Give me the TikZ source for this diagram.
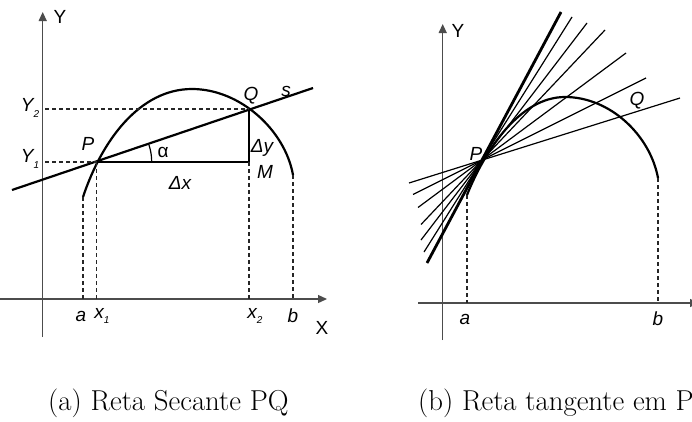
\documentclass[tikz,border=0pt]{standalone}
\usepackage{fontspec}
\newfontfamily\lab{Liberation Sans}
\usetikzlibrary{arrows.meta,calc}
\newcommand\lsub[1]{\raisebox{-0.3em}{\fontsize{10}{10}\selectfont #1}}
\begin{document}
\begin{tikzpicture}[x=1pt,y=-1pt,
  axis/.style={draw=black!70, line width=1.3pt, -{Triangle[length=9pt,width=8pt]}},
  dashline/.style={draw=black!85, dash pattern=on 4pt off 3pt, line width=1.1pt},
  curve/.style={line width=2.2pt},
  thinl/.style={line width=1.2pt},
  lbl/.style={font=\lab\fontsize{19}{21}\selectfont\itshape, inner sep=0pt},
  ulbl/.style={font=\lab\fontsize{19}{21}\selectfont, inner sep=0pt},
  captext/.style={font=\fontsize{28.8}{32}\selectfont, inner sep=0pt, anchor=base west}]
\useasboundingbox (0,0) rectangle (692,421);
\clip (0,0) rectangle (692,421);
\fill[white] (0,0) rectangle (692,421);

% ===== Left panel =====
\coordinate (yb) at (42.7,337);
\coordinate (yt) at (42.7,12);
\coordinate (xl) at (0,299);
\coordinate (xr) at (327,299);
\draw[axis] (yb) -- (yt);
\draw[axis] (xl) -- (xr);
\node[ulbl] (Ylab) at (60,17) {Y};
\node[ulbl] (Xlab) at (322,328) {X};

\coordinate (A) at (83,197);
\coordinate (P) at (96.7,162);
\coordinate (T) at (192,89);
\coordinate (Q) at (249,109);
\coordinate (M) at (249,162);
\coordinate (B) at (293,175);
\coordinate (s1) at (12,190);
\coordinate (s2) at (313,88);

\draw[curve] (A) .. controls (102,140) and (140,89) .. (T)
                 .. controls (240,89) and (285,130) .. (B);
\draw[curve] (s1) -- (s2);
\draw[thinl] (P) -- (M) -- (Q);

\coordinate (y1a) at (45,162);
\coordinate (y2a) at (45,109);
\coordinate (ax) at (83,299);
\coordinate (x1x) at (96.7,299);
\coordinate (x2x) at (249,299);
\coordinate (bx) at (293,299);
\draw[dashline] (y1a) -- (P);
\draw[dashline] (y2a) -- (Q);
\draw[dashline] (A) -- (ax);
\draw[dashline] (P) -- (x1x);
\draw[dashline] (M) -- (x2x);
\draw[dashline] (B) -- (bx);

\coordinate (arc0) at ($(P)+(55,0)$);
\draw[thinl] (arc0) arc[start angle=0, end angle=-18.6, radius=55];

\node[lbl] (Plab) at (88,144) {P};
\node[lbl] (Qlab) at (251,96) {Q};
\node[lbl] (slab) at (286,91) {s};
\node[lbl] (Mlab) at (265,172) {M};
\node[lbl] (dylab) at (262,148) {Δy};
\node[lbl] (dxlab) at (180,183) {Δx};
\node[ulbl] (alab) at (163,152) {α};
\node[lbl] (Y2lab) at (30,108) {Y\lsub{2}};
\node[lbl] (Y1lab) at (30,159) {Y\lsub{1}};
\node[lbl] (alab2) at (81,316) {a};
\node[lbl] (x1lab) at (102,316) {x\lsub{1}};
\node[lbl] (x2lab) at (255,316) {x\lsub{2}};
\node[lbl] (blab) at (293,316) {b};

% ===== Right panel =====
\coordinate (Yb) at (442.7,340);
\coordinate (Yt) at (442.7,24);
\coordinate (Xl) at (418,303);
\coordinate (Xr) at (699,303);
\draw[axis] (Yb) -- (Yt);
\draw[axis] (Xl) -- (Xr);
\node[ulbl] (Ylab2) at (458,31) {Y};

\coordinate (A2) at (467,195);
\coordinate (P2) at (482,160);
\coordinate (T2) at (565,97);
\coordinate (B2) at (658,178);
\draw[curve] (A2) .. controls (485,150) and (520,97) .. (T2)
                  .. controls (610,97) and (650,135) .. (B2);

\coordinate (u1) at (561,12);   \coordinate (l1) at (427,263);
\coordinate (u2) at (572,17);   \coordinate (l2) at (424,252);
\coordinate (u3) at (587,23);   \coordinate (l3) at (421,240);
\coordinate (u4) at (605,30);   \coordinate (l4) at (421,224.5);
\coordinate (u5) at (626,53);   \coordinate (l5) at (418,207.5);
\coordinate (u6) at (646,78);   \coordinate (l6) at (413,194.5);
\coordinate (u7) at (680,98);   \coordinate (l7) at (409,183);
\draw[line width=2.8pt] (l1) -- (u1);
\foreach \i in {2,...,7} \draw[thinl] (l\i) -- (u\i);

\coordinate (a2x) at (467,303);
\coordinate (b2x) at (658,303);
\draw[dashline] (A2) -- (a2x);
\draw[dashline] (B2) -- (b2x);

\node[lbl] (P2lab) at (476,154) {P};
\node[lbl] (Q2lab) at (637,101) {Q};
\node[lbl] (a2lab) at (465,319) {a};
\node[lbl] (b2lab) at (658,319) {b};

% ===== Captions =====
\node[captext] (capa) at (48,410) {(a) Reta Secante PQ};
\node[captext] (capb) at (418,410) {(b) Reta tangente em P};
\end{tikzpicture}
\end{document}
